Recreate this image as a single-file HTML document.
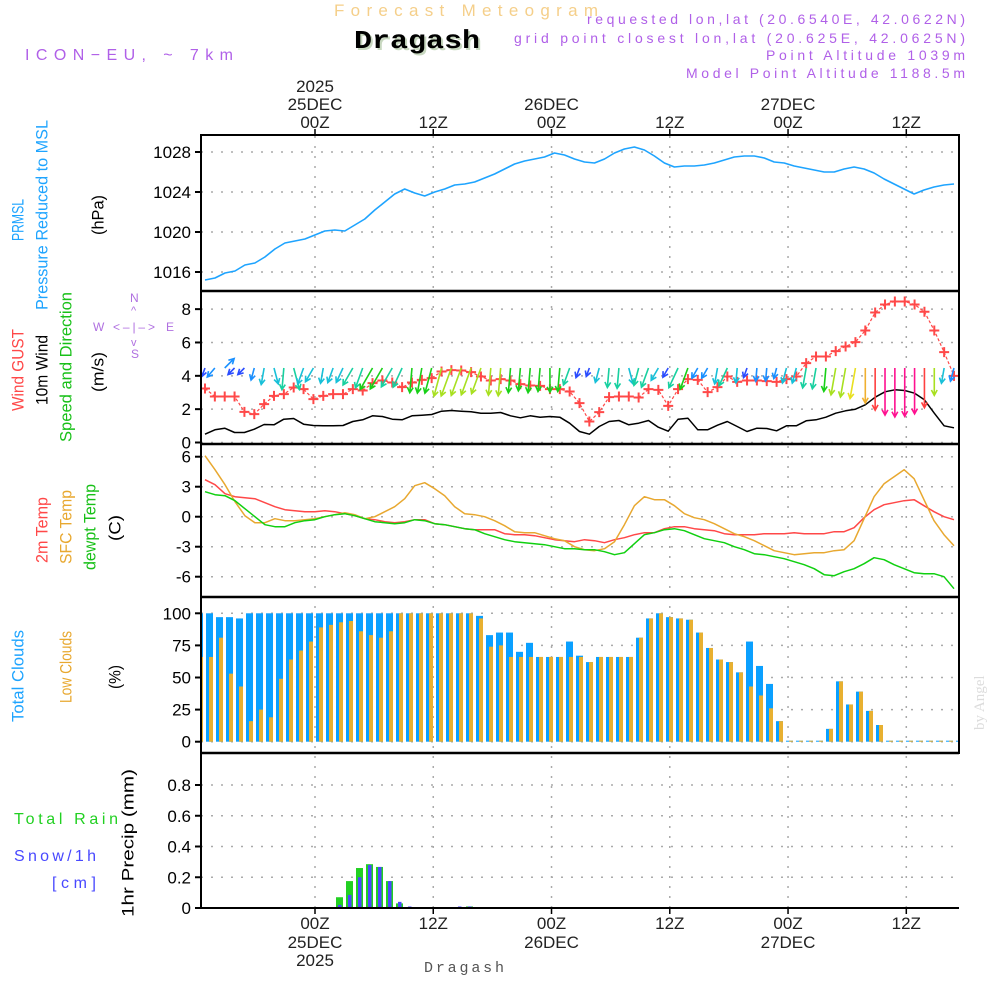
<!DOCTYPE html>
<html><head><meta charset="utf-8"><title>Forecast Meteogram Dragash</title>
<style>
html,body{margin:0;padding:0;background:#fff;width:1000px;height:1000px;overflow:hidden}
svg{display:block}
text{font-family:"Liberation Sans",sans-serif}
</style></head>
<body>
<svg id="chart" xmlns="http://www.w3.org/2000/svg" width="1000" height="1000" viewBox="0 0 1000 1000">
<g id="header">
<text x="334" y="16" font-size="17" fill="#f5cf8a" textLength="264" lengthAdjust="spacing">Forecast Meteogram</text>
<text x="356" y="50" font-size="26" font-weight="bold" fill="#c8d8c0" style="font-family:'Liberation Mono',monospace" textLength="126" lengthAdjust="spacingAndGlyphs">Dragash</text>
<text x="354" y="48" font-size="26" font-weight="bold" fill="#000" style="font-family:'Liberation Mono',monospace" textLength="126" lengthAdjust="spacingAndGlyphs">Dragash</text>
<text x="25" y="60" font-size="16" fill="#b060e8" textLength="208" lengthAdjust="spacing">ICON−EU, ~ 7km</text>
<text x="587" y="24" font-size="14" fill="#b060e8" textLength="378" lengthAdjust="spacing">requested lon,lat (20.6540E, 42.0622N)</text>
<text x="514" y="43" font-size="14" fill="#b060e8" textLength="451" lengthAdjust="spacing">grid point closest lon,lat (20.625E, 42.0625N)</text>
<text x="766" y="60" font-size="14" fill="#b060e8" textLength="199" lengthAdjust="spacing">Point Altitude 1039m</text>
<text x="686" y="78" font-size="14" fill="#b060e8" textLength="279" lengthAdjust="spacing">Model Point Altitude 1188.5m</text>
<text x="424" y="972" font-size="15" fill="#555" style="font-family:'Liberation Mono',monospace" textLength="80" lengthAdjust="spacing">Dragash</text>
<text transform="translate(984,730) rotate(-90)" font-size="15" fill="#dcdcdc" style="font-family:'Liberation Serif',serif">by Angel</text>
</g>
<g id="labels"></g>
<g id="grid"></g>
<g id="marks"></g>
<g id="frame"></g>
</svg>
<script>
// ---------------- data ----------------
const timeTicksHours = [0, 12, 24, 36, 48, 60];
const timeTopLabels = [["2025","25DEC","00Z"],["","","12Z"],["","26DEC","00Z"],["","","12Z"],["","27DEC","00Z"],["","","12Z"]];
const timeBottomLabels = [["00Z","25DEC","2025"],["12Z","",""],["00Z","26DEC",""],["12Z","",""],["00Z","27DEC",""],["12Z","",""]];

const pressure = [1015.2,1015.4,1015.9,1016.1,1016.7,1016.9,1017.5,1018.3,1018.9,1019.1,1019.3,1019.7,1020.1,1020.2,1020.1,1020.7,1021.3,1022.2,1023.0,1023.8,1024.3,1023.9,1023.6,1024.0,1024.3,1024.7,1024.8,1025.0,1025.4,1025.8,1026.3,1026.8,1027.1,1027.3,1027.5,1027.9,1027.7,1027.3,1027.0,1026.9,1027.3,1027.9,1028.3,1028.5,1028.2,1027.6,1026.9,1026.5,1026.6,1026.6,1026.7,1026.9,1027.2,1027.5,1027.6,1027.6,1027.4,1027.0,1026.9,1026.6,1026.4,1026.2,1026.0,1026.0,1026.3,1026.5,1026.3,1025.9,1025.3,1024.8,1024.3,1023.8,1024.2,1024.5,1024.7,1024.8];
const pressureTicks = [1016, 1020, 1024, 1028];

const windSpeed = [0.5,0.76,0.86,0.6,0.6,0.8,1.08,1.06,1.4,1.44,1.1,1.02,1.0,1.0,1.02,1.26,1.36,1.6,1.56,1.4,1.36,1.6,1.64,1.68,1.88,1.92,1.88,1.84,1.76,1.76,1.8,1.6,1.48,1.6,1.52,1.56,1.52,1.16,0.66,0.5,0.96,1.26,1.32,1.06,1.16,1.32,0.92,0.68,1.4,1.46,0.76,0.76,1.04,1.26,0.96,0.66,0.86,0.84,0.7,1.0,1.0,1.3,1.36,1.52,1.76,1.9,2.0,2.26,2.72,3.04,3.16,3.12,2.96,2.56,1.76,1.0,0.88];
const windGust = [3.24,2.76,2.76,2.76,1.84,1.7,2.3,2.8,2.9,3.3,3.2,2.6,2.8,2.9,2.9,3.2,3.12,3.56,3.72,3.6,3.32,3.6,3.76,3.86,4.26,4.34,4.32,4.22,3.96,3.72,3.8,3.72,3.5,3.42,3.4,3.2,3.2,3.06,2.36,1.26,1.82,2.72,2.76,2.76,2.7,3.2,3.16,2.2,3.2,3.8,3.76,3.02,3.32,3.96,3.64,3.72,3.72,3.68,3.64,3.8,3.96,4.76,5.16,5.16,5.48,5.76,6.02,6.72,7.8,8.28,8.46,8.46,8.28,7.84,6.72,5.42,4.0];
const windDir = [20,40,225,45,45,15,10,345,5,345,20,30,10,20,25,30,20,30,30,30,25,5,10,15,15,20,20,20,20,5,5,5,5,5,5,0,5,20,20,20,15,5,5,345,15,20,30,30,25,20,30,30,10,25,5,20,5,5,15,15,15,10,10,5,10,10,10,0,0,0,0,0,0,0,0,10,15];
const windTicks = [0, 2, 4, 6, 8];

const temp2m = [3.7,3.2,2.3,2.0,1.9,1.8,1.4,1.0,0.7,0.6,0.5,0.5,0.6,0.5,0.3,0.1,-0.2,-0.3,-0.5,-0.6,-0.5,-0.3,-0.3,-0.7,-0.8,-1.0,-1.2,-1.3,-1.3,-1.3,-1.7,-1.8,-1.8,-1.9,-2.1,-2.3,-2.4,-2.5,-2.3,-2.4,-2.6,-2.3,-2.1,-1.8,-1.6,-1.6,-1.2,-1.0,-1.0,-1.2,-1.3,-1.4,-1.7,-1.8,-1.8,-1.8,-1.7,-1.7,-1.7,-1.6,-1.7,-1.7,-1.7,-1.5,-1.5,-1.1,-0.1,0.7,1.2,1.4,1.6,1.7,1.1,0.5,0.0,-0.3];
const tempSfc = [6.1,4.7,3.2,1.5,0.1,-0.6,-0.6,-0.2,-0.4,-0.4,-0.3,-0.2,0.0,0.2,0.4,0.2,-0.2,0.0,0.5,1.0,1.8,3.1,3.4,2.8,2.1,1.0,0.3,0.2,0.0,-0.4,-0.9,-1.5,-1.6,-1.6,-1.9,-2.2,-2.4,-3.0,-3.3,-3.4,-3.2,-2.5,-0.8,1.1,2.0,1.7,1.7,1.1,0.3,-0.1,-0.3,-0.7,-1.2,-1.7,-2.0,-2.4,-2.9,-3.4,-3.6,-3.8,-3.7,-3.6,-3.6,-3.4,-3.3,-2.4,-0.2,2.0,3.3,4.0,4.7,3.8,1.7,-0.4,-1.8,-2.9];
const tempDew = [2.5,2.2,2.1,1.6,0.8,0.0,-0.8,-1.0,-1.0,-0.6,-0.4,-0.3,0.0,0.2,0.3,0.1,-0.2,-0.5,-0.6,-0.7,-0.6,-0.3,-0.4,-0.7,-0.8,-1.0,-1.2,-1.3,-1.7,-2.0,-2.3,-2.5,-2.6,-2.7,-2.8,-3.0,-3.2,-3.2,-3.3,-3.3,-3.5,-3.8,-3.6,-2.7,-1.8,-1.6,-1.3,-1.2,-1.4,-1.8,-2.2,-2.4,-2.6,-3.0,-3.3,-3.7,-3.8,-4.0,-4.2,-4.5,-4.8,-5.2,-5.8,-5.9,-5.5,-5.2,-4.7,-4.1,-4.3,-4.8,-5.2,-5.6,-5.7,-5.7,-6.0,-7.2];
const tempTicks = [-6, -3, 0, 3, 6];

const totalClouds = [100,100,97,97,96,100,100,100,100,100,100,100,100,100,100,100,100,100,100,100,100,100,100,100,100,100,100,100,98,83,85,85,70,77,66,66,66,78,67,62,66,66,66,66,81,96,100,97,96,95,85,73,64,62,54,78,59,45,16,0,0,0,0,10,47,29,39,24,13,0,0,0,0,0,0,0,0];
const lowClouds = [66,66,81,53,43,16,25,19,49,64,71,78,89,91,93,94,86,83,81,86,100,100,100,100,100,100,100,100,96,74,75,66,66,66,66,66,66,66,66,62,66,66,66,66,81,96,100,97,96,95,85,73,64,62,54,43,36,26,16,0,0,0,0,10,47,29,39,24,13,0,0,0,0,0,0,0,0];
const cloudTicks = [0, 25, 50, 75, 100];

const rainTotal = [0,0,0,0,0,0,0,0,0,0,0,0,0,0,0.07,0.175,0.26,0.285,0.267,0.175,0.03,0,0,0,0,0,0,0.01,0,0,0,0,0,0,0,0,0,0,0,0,0,0,0,0,0,0,0,0,0,0,0,0,0,0,0,0,0,0,0,0,0,0,0,0,0,0,0,0,0,0,0,0,0,0,0,0,0];
const snowHourly = [0,0,0,0,0,0,0,0,0,0,0,0,0,0,0.02,0.085,0.2,0.28,0.267,0.175,0.04,0.005,0,0,0,0,0.004,0.01,0,0,0,0,0,0,0,0,0,0,0,0,0,0,0,0,0,0,0,0,0,0,0,0,0,0,0,0,0,0,0,0,0,0,0,0,0,0,0,0,0,0,0,0,0,0,0,0,0];
const precipTicks = [0, 0.2, 0.4, 0.6, 0.8];

// ---------------- layout / scales ----------------
const NS = "http://www.w3.org/2000/svg";
const PX0 = 201, PX1 = 959;
function xHour(h){ return 315 + h * 9.855; }
function xLine(i, n){ return 205 + i * (749 / (n - 1)); }
function xBar(k){ return 196 + k * 10; }
function yP(v){ return 152 + (1028 - v) * 10; }
function yW(v){ return 442.5 - v * 16.67; }
function yT(v){ return 516.7 - v * 10; }
function yC(v){ return 741.7 - v * 1.284; }
function yR(v){ return 908 - v * 153.75; }

function el(tag, attrs, parent){
  const e = document.createElementNS(NS, tag);
  for (const k in attrs) e.setAttribute(k, attrs[k]);
  parent.appendChild(e);
  return e;
}
const G = document.getElementById('grid');
const M = document.getElementById('marks');
const F = document.getElementById('frame');
const L = document.getElementById('labels');

const defs = el('defs', {}, document.getElementById('chart'));
const cp = el('clipPath', {id:'plotclip'}, defs);
el('rect', {x:PX0, y:136, width:PX1-PX0, height:908-136}, cp);
M.setAttribute('clip-path', 'url(#plotclip)');

// ---------------- gridlines ----------------
function hgrid(ticks, yf, fmt, name){
  ticks.forEach(v => {
    const y = yf(v);
    const g = el('line', {x1:PX0, x2:PX1, y1:y, y2:y, stroke:'#aaa', 'stroke-width':1.5, 'stroke-dasharray':'2 8'}, G);
    
    
    const tk = el('line', {x1:PX0-6, x2:PX0, y1:y, y2:y, stroke:'#000', 'stroke-width':2}, F);
    
    
    const t = el('text', {x:PX0-10, y:y+6, 'font-size':17, 'text-anchor':'end', fill:'#000'}, F);
    
    
    t.textContent = fmt(v);
  });
}
hgrid(pressureTicks, yP, v => String(v), 'pressure');
hgrid(windTicks, yW, v => String(v), 'wind');
hgrid(tempTicks, yT, v => String(v), 'temp');
hgrid(cloudTicks, yC, v => String(v), 'cloud');
hgrid(precipTicks, yR, v => v === 0 ? '0' : v.toFixed(1), 'precip');

timeTicksHours.forEach((h, i) => {
  const x = xHour(h);
  const g = el('line', {x1:x, x2:x, y1:136, y2:908, stroke:'#aaa', 'stroke-width':1.5, 'stroke-dasharray':'2 8'}, G);
  
  
  const t1 = el('line', {x1:x, x2:x, y1:129, y2:136, stroke:'#000', 'stroke-width':1.5}, F);
  
  
  const t2 = el('line', {x1:x, x2:x, y1:908, y2:914, stroke:'#000', 'stroke-width':1.5}, F);
  
  
  timeTopLabels[i].forEach((s, j) => {
    if (!s) return;
    const t = el('text', {x:x, y:[92,110,128][j], 'font-size':17, 'text-anchor':'middle', fill:'#222'}, F);
    
    
    t.textContent = s;
  });
  timeBottomLabels[i].forEach((s, j) => {
    if (!s) return;
    const t = el('text', {x:x, y:[929,948,966][j], 'font-size':17, 'text-anchor':'middle', fill:'#222'}, F);
    
    
    t.textContent = s;
  });
});

// ---------------- series ----------------
function polyline(vals, yf, color, width, name, dash){
  const pts = vals.map((v, i) => xLine(i, vals.length).toFixed(1) + ',' + yf(v).toFixed(1)).join(' ');
  const p = el('polyline', {points:pts, fill:'none', stroke:color, 'stroke-width':width, 'stroke-linejoin':'round'}, M);
  if (dash) p.setAttribute('stroke-dasharray', dash);
  
  
}
polyline(pressure, yP, '#1ea4ff', 1.6, 'pressure-line');
polyline(temp2m, yT, '#ff4848', 1.5, 'temp-2m-line');
polyline(tempSfc, yT, '#e8a830', 1.5, 'temp-sfc-line');
polyline(tempDew, yT, '#10d010', 1.5, 'dewpoint-line');
polyline(windSpeed, yW, '#000', 1.5, 'wind-speed-line');
polyline(windGust, yW, '#ff4848', 1.2, 'gust-line', '3 2');
windGust.forEach((v, i) => {
  const x = xLine(i, windGust.length), y = yW(v);
  const p = el('path', {d:`M${x-5},${y}H${x+5}M${x},${y-5}V${y+5}`, stroke:'#ff4848', 'stroke-width':2}, M);
  
  
});

function windColor(s){
  if (s < 0.7) return '#2a4cff';
  if (s < 0.9) return '#1a90ff';
  if (s < 1.15) return '#18c0d8';
  if (s < 1.45) return '#18d0a0';
  if (s < 1.7) return '#18d018';
  if (s < 1.95) return '#a8e020';
  if (s < 2.15) return '#e8e020';
  if (s < 2.5) return '#f0b030';
  if (s < 2.85) return '#ff4040';
  return '#ff1090';
}
windDir.forEach((d, i) => {
  const s = windSpeed[i];
  const x = xLine(i, windDir.length), y = 368;
  const len = Math.max(9, s * 15.5);
  const r = d * Math.PI / 180;
  const dx = -Math.sin(r), dy = Math.cos(r);
  const ex = x + dx * len, ey = y + dy * len;
  const hl = 6, ha = 0.5;
  const bx = -dx, by = -dy;
  const h1x = ex + hl * (bx * Math.cos(ha) - by * Math.sin(ha));
  const h1y = ey + hl * (bx * Math.sin(ha) + by * Math.cos(ha));
  const h2x = ex + hl * (bx * Math.cos(-ha) - by * Math.sin(-ha));
  const h2y = ey + hl * (bx * Math.sin(-ha) + by * Math.cos(-ha));
  const p = el('path', {d:`M${x},${y}L${ex},${ey}M${h1x},${h1y}L${ex},${ey}L${h2x},${h2y}`, stroke:windColor(s), 'stroke-width':1.6, fill:'none'}, M);
  
  
});

totalClouds.forEach((v, k) => {
  const x = xBar(k);
  const yb = yC(0), yt = Math.min(yC(v), yb - 1);
  const b = el('rect', {x:x, y:yt, width:7, height:yb - yt, fill:'#0aa0ff'}, M);
  
  
});
lowClouds.forEach((v, k) => {
  const x = xBar(k);
  const yb = yC(0), yt = Math.min(yC(v), yb - 1);
  const b = el('rect', {x:x + 3, y:yt, width:4, height:yb - yt, fill:'#e8b030'}, M);
  
  
});

rainTotal.forEach((v, k) => {
  if (v <= 0) return;
  const x = xBar(k);
  const b = el('rect', {x:x, y:yR(v), width:7, height:yR(0) - yR(v), fill:'#22d022'}, M);
  
  
});
snowHourly.forEach((v, k) => {
  if (v <= 0) return;
  const x = xBar(k);
  const h = Math.max(1.5, yR(0) - yR(v));
  const b = el('rect', {x:x + 2, y:yR(0) - h, width:3.5, height:h, fill:'#4848ff'}, M);
  
  
});

// ---------------- frame ----------------
function fline(x1,y1,x2,y2,w,name){
  const l = el('line', {x1:x1,y1:y1,x2:x2,y2:y2,stroke:'#000','stroke-width':w}, F);
  
  
}
fline(PX0, 135, PX1, 135, 2, 'frame-top');
fline(PX0, 291, PX1, 291, 2.5, 'panel-divider');
fline(PX0, 444, PX1, 444, 2.5, 'panel-divider');
fline(PX0, 597, PX1, 597, 2.5, 'panel-divider');
fline(PX0, 753, PX1, 753, 2.5, 'panel-divider');
fline(PX0, 908, PX1, 908, 2, 'x-axis');
fline(PX0, 134, PX0, 909, 2, 'y-axis');
fline(PX1, 134, PX1, 754, 2, 'frame-right');

// ---------------- side labels ----------------
function vlabel(x, cy, txt, color, len, name, size){
  const t = el('text', {transform:`translate(${x},${cy}) rotate(-90)`, 'font-size':size || 17, 'text-anchor':'middle', 'dominant-baseline':'central', fill:color, textLength:len, lengthAdjust:'spacingAndGlyphs'}, L);
  
  
  t.textContent = txt;
}
function hlabel(x, y, txt, color, len, name, size){
  const t = el('text', {x:x, y:y, 'font-size':size || 16, fill:color, textLength:len, lengthAdjust:'spacing'}, L);
  
  
  t.textContent = txt;
}
vlabel(18, 220, 'PRMSL', '#1ea4ff', 42, 'prmsl-label');
vlabel(42, 215, 'Pressure Reduced to MSL', '#1ea4ff', 190, 'pressure-label');
vlabel(98, 215, '(hPa)', '#000', 40, 'pressure-unit');
vlabel(18, 370, 'Wind GUST', '#ff4848', 82, 'gust-label');
vlabel(42, 370, '10m Wind', '#000', 70, 'wind-label');
vlabel(66, 367, 'Speed and Direction', '#18c018', 150, 'wind-dir-label');
vlabel(98, 372, '(m/s)', '#000', 40, 'wind-unit');
vlabel(42, 530, '2m Temp', '#ff4848', 66, 'temp2m-label');
vlabel(66, 527, 'SFC Temp', '#e8a830', 74, 'sfc-temp-label');
vlabel(90, 527, 'dewpt Temp', '#18c018', 86, 'dewpt-label');
vlabel(115, 528, '(C)', '#000', 26, 'temp-unit');
vlabel(18, 676, 'Total Clouds', '#1ea4ff', 92, 'total-clouds-label');
vlabel(66, 667, 'Low Clouds', '#e8a830', 72, 'low-clouds-label');
vlabel(115, 677, '(%)', '#000', 24, 'clouds-unit');
vlabel(128, 843, '1hr Precip (mm)', '#000', 148, 'precip-label');
hlabel(14, 824, 'Total  Rain', '#22d022', 104, 'total-rain-label');
hlabel(14, 861, 'Snow/1h', '#4848ff', 82, 'snow-label');
hlabel(52, 888, '[cm]', '#4848ff', 44, 'snow-unit');
hlabel(130, 302, 'N', '#b070e0', 9, 'compass-n', 12);
hlabel(93, 331, 'W', '#b070e0', 10, 'compass-w', 12);
hlabel(113, 331, '<–|–>', '#b070e0', 42, 'compass-arrows', 12);
hlabel(166, 331, 'E', '#b070e0', 9, 'compass-e', 12);
hlabel(131, 314, '^', '#b070e0', 7, 'compass-up', 11);
hlabel(131, 346, 'v', '#b070e0', 7, 'compass-down', 11);
hlabel(131, 358, 'S', '#b070e0', 8, 'compass-s', 12);
</script>
</body></html>
